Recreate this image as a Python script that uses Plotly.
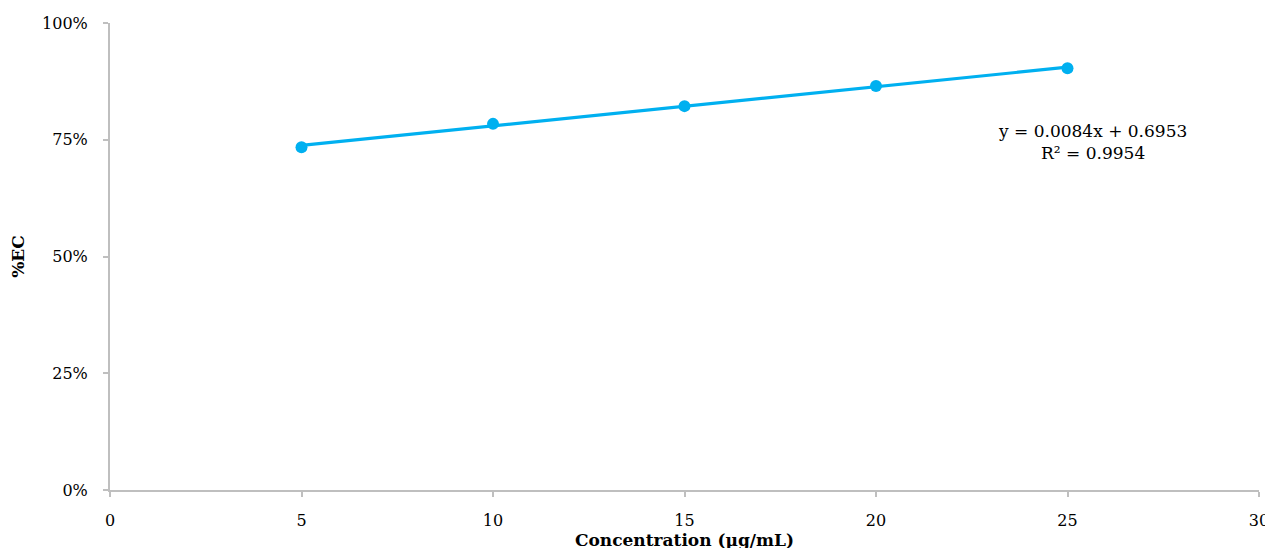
import numpy as np
import plotly.graph_objects as go

concentration = [5, 10, 15, 20, 25]
ec_fraction = [0.734, 0.784, 0.822, 0.865, 0.903]
x_ticks = [0, 5, 10, 15, 20, 25, 30]
y_ticks = [0, 0.25, 0.5, 0.75, 1.0]

slope, intercept = np.polyfit(concentration, ec_fraction, 1)
fit_x = [min(concentration), max(concentration)]
fit_y = [slope * v + intercept for v in fit_x]

FONT = "DejaVu Serif, Liberation Serif, serif"
BLUE = "#00B0F0"
AXIS = "#BFBFBF"

fig = go.Figure()
fig.add_trace(go.Scatter(x=fit_x, y=fit_y, mode="lines",
                         line=dict(color=BLUE, width=3.2), showlegend=False,
                         hoverinfo="skip"))
fig.add_trace(go.Scatter(x=concentration, y=ec_fraction, mode="markers",
                         marker=dict(color=BLUE, size=12), showlegend=False))

fig.add_annotation(x=25.65, y=0.745, xref="x", yref="y",
                   text="y = 0.0084x + 0.6953<br>R² = 0.9954",
                   showarrow=False, align="center",
                   font=dict(family=FONT, size=17, color="#000000"))

fig.update_layout(
    width=1273, height=548,
    margin=dict(l=102, r=22, t=15, b=66, autoexpand=False),
    plot_bgcolor="white", paper_bgcolor="white",
    font=dict(family=FONT, size=16, color="#000000"),
    xaxis=dict(range=[0, 30], tickvals=x_ticks, showgrid=False, zeroline=False,
               showline=True, linecolor=AXIS, linewidth=2, automargin=False,
               ticks="outside", tickcolor=AXIS, ticklen=5, tickwidth=2,
               ticklabelstandoff=10,
               tickfont=dict(family=FONT, size=16),
               title=dict(text="<b>Concentration (µg/mL)</b>", standoff=2,
                          font=dict(family=FONT, size=17))),
    yaxis=dict(range=[0, 1.0], tickvals=y_ticks, tickformat=".0%", showgrid=False,
               zeroline=False, showline=True, linecolor=AXIS, linewidth=2,
               automargin=False,
               ticks="outside", tickcolor=AXIS, ticklen=5, tickwidth=2,
               ticklabelstandoff=12,
               tickfont=dict(family=FONT, size=16),
               title=dict(text="<b>%EC</b>", standoff=14,
                          font=dict(family=FONT, size=17))),
)

fig.write_html("out.html")
